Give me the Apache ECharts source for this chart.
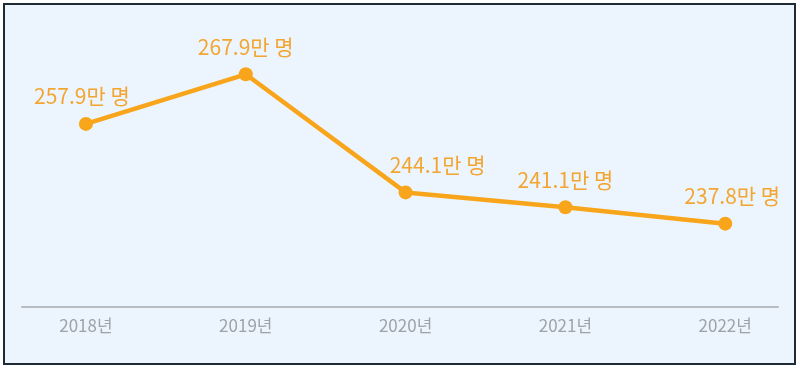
<!DOCTYPE html>
<html><head><meta charset="utf-8">
<script src="https://cdn.jsdelivr.net/npm/echarts@6/dist/echarts.min.js"></script>
<style>
html,body{margin:0;padding:0;background:#fff;width:800px;height:369px;overflow:hidden;}
#frame{position:absolute;left:3px;top:3px;width:789px;height:358px;border:2px solid #1f2a36;background:#ecf5fd;}
#chart{position:absolute;left:0;top:0;width:800px;height:369px;}
</style></head>
<body>
<div id="frame"></div>
<div id="chart"></div>
<script>
const categories = ['2018년', '2019년', '2020년', '2021년', '2022년'];
const values = [257.9, 267.9, 244.1, 241.1, 237.8];
const unitSuffix = '만 명';
const labelShiftX = [-4, 0, 32, 0, 7];

const chart = echarts.init(document.getElementById('chart'), null, {renderer: 'canvas'});
const font = '"Noto Sans CJK KR", "Noto Sans", sans-serif';
chart.setOption({
  backgroundColor: 'transparent',
  animation: false,
  grid: {left: 22, right: 22, top: 50, bottom: 62},
  xAxis: {
    type: 'value', min: -0.4, max: 4.33,
    splitLine: {show: false},
    axisTick: {show: false},
    axisLine: {show: true, onZero: false, lineStyle: {color: '#b9bdc2', width: 2}},
    axisLabel: {
      customValues: [0, 1, 2, 3, 4],
      formatter: v => categories[Math.round(v)] || '',
      color: '#9ea3a8', fontSize: 17, fontFamily: font, margin: 10
    }
  },
  yAxis: {type: 'value', min: 221, max: 272.8, show: false},
  series: [{
    type: 'line',
    data: values.map((v, i) => ({value: [i, v], label: {offset: [labelShiftX[i], 0]}})),
    lineStyle: {color: '#f8a51c', width: 4.5},
    itemStyle: {color: '#f8a51c'},
    symbol: 'circle', symbolSize: 14,
    label: {
      show: true, position: 'top', distance: 10,
      formatter: p => p.value[1].toFixed(1) + unitSuffix,
      color: '#f2a631', fontSize: 21, fontFamily: font
    }
  }]
});
</script>
</body></html>
